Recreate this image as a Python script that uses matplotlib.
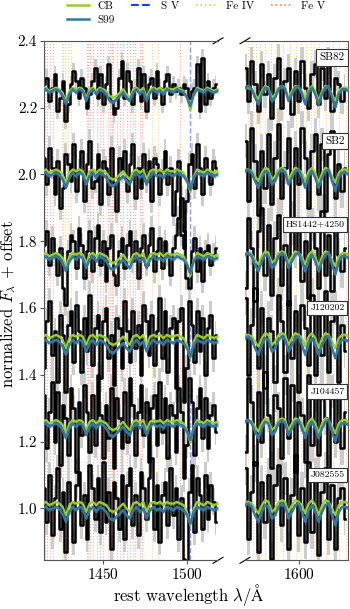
import numpy as np
import matplotlib.pyplot as plt
from matplotlib.lines import Line2D

plt.rcParams['font.family'] = 'serif'
plt.rcParams['font.serif'] = ['cmr10', 'DejaVu Serif']
plt.rcParams['mathtext.fontset'] = 'cm'
plt.rcParams['axes.unicode_minus'] = False
plt.rcParams['axes.formatter.use_mathtext'] = True

# object names and vertical offsets
names = ['SB82', 'SB2', 'HS1442+4250', 'J120202', 'J104457', 'J082555']
offsets = [2.25, 2.0, 1.75, 1.5, 1.25, 1.0]
label_sizes = [8, 8, 7, 7, 7, 7]

# binned spectra, residuals in units of 0.01 around each offset
wl_left = np.arange(1415, 1518.7, 1.6)   # 65 bins
wl_right = np.arange(1568, 1629, 2.0)    # 31 bins

res_left = {
    'SB82': [2, 4, -3, 1, 5, -6, -2, 3, -9, -4, 2, 6, 3, -2, 4, 1, -5, -1, 3, 7, -2, 5, -4, 2, 8, -3, -7, -5, 4, 9, -2, 6, 3, -4, 1, 7, -3, 5, -6, 2, 4, -2, 6, 1, -4, 3, 5, -1, 2, 0, 1, -1, 2, 1, -2, 0, 1, 8, -6, 10, -4, 3, -2, 1, 2],
    'SB2': [5, -3, 8, 2, -6, 4, -10, -4, 6, 3, -2, 9, -5, 1, 7, -8, 3, 10, -4, -2, 6, -9, 4, 2, -6, 8, -3, -11, 5, 1, 7, -5, 3, 9, -7, 2, -4, 6, -2, 4, -8, 5, 3, -6, 1, 7, -3, 2, -12, -5, 4, -18, -22, -8, 3, 6, -4, 9, 2, -6, 5, 1, -3, 4, 2],
    'HS1442+4250': [4, 8, -2, 6, 1, -5, 3, -9, -14, 2, 7, 5, -3, 9, 4, -6, 2, 8, -4, 6, 10, -2, 5, -7, 3, 7, -5, -8, 2, 6, -3, 4, 8, -1, 5, -6, 3, 7, -2, 4, 9, -4, 2, 6, -3, 5, 1, -5, 3, 7, 12, 18, 8, -6, -9, 2, 6, -4, 3, -7, 2, 4, -2, 1, 3],
    'J120202': [-8, 6, 12, -4, 3, -12, 8, 2, -15, 5, 9, -6, 11, 3, -9, 7, -3, 14, -7, 4, 8, -11, 6, 10, -5, 2, -13, 7, 4, -8, 12, 3, -6, 9, -2, 5, -10, 11, 6, -4, 8, -7, 3, 13, -5, 9, -9, 4, 7, -14, 6, 10, -18, -8, 12, 5, -6, 9, -3, 7, -10, 4, 8, -5, 2],
    'J104457': [9, -7, 4, 13, -5, 10, -12, 6, 2, -9, 11, 5, -14, 7, -3, 12, 4, -8, 9, -6, 15, 3, -10, 6, -4, 11, -13, 8, 2, -7, 10, -5, 14, 6, -9, 4, 12, -3, 7, -11, 5, 9, -6, 13, -2, 8, -10, 6, 3, -8, 11, 4, -16, -6, 14, 7, -9, 5, 11, -4, 8, -7, 3, 6, -2],
    'J082555': [6, -4, 10, -8, 3, 12, -6, 5, -13, 8, 2, -10, 7, 11, -5, 4, -9, 13, 6, -3, 9, -7, 14, -4, 5, -12, 8, 3, -6, 10, -9, 7, 12, -5, 4, -8, 11, 6, -3, 9, 15, -6, 7, -10, 4, 8, -5, 12, -2, 6, -9, 3, -15, -20, 5, 13, -7, 9, 4, -6, 10, -3, 7, 2, -4],
}
res_right = {
    'SB82': [7, -3, 9, 2, -6, 8, -1, 5, -8, 4, 10, -5, 3, 7, -7, 6, -3, 9, 1, -5, 5, 8, -4, 7, -2, 9, -6, 4, 2, -3, 1],
    'SB2': [10, -8, 14, 4, -12, 7, -4, 12, -9, 5, 15, -7, 2, 11, -13, 8, -3, 14, 5, -10, 7, 12, -6, 9, -11, 6, 13, -7, 3, -5, 2],
    'HS1442+4250': [-9, 12, 3, -13, 8, 15, -5, 10, -11, 6, 13, -8, 4, -14, 9, 2, 12, -7, 5, -12, 10, 3, -9, 14, -5, 7, -10, 11, 1, -4, 3],
    'J120202': [13, -10, 5, 16, -8, 10, -14, 7, 3, -12, 14, 6, -9, 12, -5, 9, -15, 11, 4, -7, 14, -10, 8, -4, 15, -9, 6, 10, -12, 5, -3],
    'J104457': [-8, 14, 7, -12, 10, -5, 16, 3, -13, 9, 5, -10, 14, -4, 12, -14, 7, 3, -11, 15, -6, 9, -9, 12, 2, -14, 10, -5, 8, -7, 4],
    'J082555': [12, -9, 5, 14, -13, 8, -4, 10, -15, 7, 13, -5, 9, -12, 4, 16, -8, 6, -10, 14, -7, 10, -14, 5, 12, -9, 7, -12, 3, 6, -3],
}
err_left = [0.025, 0.035, 0.035, 0.04, 0.04, 0.04]
err_right = [0.04, 0.05, 0.05, 0.05, 0.05, 0.05]

# model spectra (units of 0.01 around offset)
mwl_left = np.arange(1414, 1521, 2.0)    # 54 points
mwl_right = np.arange(1566, 1633, 2.0)   # 34 points
s99_left = [0, 0.5, -0.5, 0, 0.5, 0, -1.5, -4, -1, 0.5, -0.5, 0.5, 0, -3, -0.5, 0.5, -1, 0.5, 0, -1, -3, -3.5, -2.5, -1.5, -0.5, -2, -3, -0.5, 0.5, -1, 0, -3, -0.5, 0.5, -0.5, 0, -1, 0.5, 0, -0.5, 0.5, 0, -0.5, -2, -4.5, -1, 0.5, 0, -0.5, 0.5, 0, -0.5, 0, 0]
cb_left = [0.5, 1, 0, 0.5, 1, 0.5, -0.5, -3, 0, 1, 0.5, 1, 0.5, -2, 0.5, 1, 0, 1, 0.5, 0, -1.5, -2, -1.5, -0.5, 0.5, -1, -2, 0.5, 1, 0, 1, -2, 0.5, 1, 0.5, 1, 0, 1, 0.5, 0.5, 1, 0.5, 0, -2, -6, -1, 1, 0.5, 0, 1, 0.5, 0, 0.5, 0.5]
s99_right = [0, 1, 1.5, 0.5, -2, -4, -1, 1, 0.5, -3, -2, 0.5, 1.5, 0.5, -3, -1, 1, 1.5, -1, -4, -0.5, 1, -1, -4, -1, 1, 1.5, -2, -5, -1, 0.5, 0.5, 0, 0]
cb_right = [0.5, 1, 1, 0.5, -1, -2.5, 0, 1.5, 1, -2, -1, 1, 1.5, 1, -2, 0, 1.5, 1, 0, -2.5, 0.5, 1.5, 0, -3, 0, 1.5, 1, -1, -3, 0, 1, 1, 0.5, 0.5]
cb_shift = [0.0, 0.005, 0.005, 0.01, 0.005, 0.01]

# line lists
fe4_lines = [1425.4, 1426.4, 1427.4, 1429.3, 1430.8, 1479.0, 1482.9,
             1569.8, 1572.7, 1574.7, 1576.8, 1579.8, 1583.8, 1586.7, 1590.7, 1594.6,
             1598.6, 1601.6, 1604.6, 1607.5, 1609.5, 1612.5, 1616.5, 1620.4, 1624.4, 1628.4]
fe5_lines = [1415.5, 1416.8, 1418.5, 1420.1, 1440.3, 1441.3, 1442.3, 1444.2, 1446.3,
             1448.2, 1450.2, 1453.2, 1454.2, 1455.2, 1456.1, 1458.2, 1460.1, 1462.1,
             1464.1, 1466.1, 1468.0, 1469.0, 1472.0, 1473.0, 1495.8]
sv_line = 1501.8

fig = plt.figure(figsize=(3.5, 6.09), dpi=100)
ax1 = fig.add_axes([0.126, 0.080, 0.497, 0.853])
ax2 = fig.add_axes([0.700, 0.080, 0.294, 0.853])

c_cb = '#9acd32'
c_s99 = '#35789f'

for ax, wl, mwl, s99, cb, res, err in [
        (ax1, wl_left, mwl_left, s99_left, cb_left, res_left, err_left),
        (ax2, wl_right, mwl_right, s99_right, cb_right, res_right, err_right)]:
    for w in fe4_lines:
        ax.axvline(w, color='#ffb347', ls=':', lw=0.8, alpha=0.6, zorder=0)
    for w in fe5_lines:
        ax.axvline(w, color='#ff6347', ls=':', lw=0.8, alpha=0.5, zorder=0)
    ax.axvline(sv_line, color='#6f86ff', ls='--', lw=1.0, alpha=0.8, zorder=0)
    for i, name in enumerate(names):
        f = offsets[i] + 0.01 * np.array(res[name])
        ax.fill_between(wl, f - err[i], f + err[i], step='mid', color='#cccccc', lw=0, zorder=1)
        ax.step(wl, f, where='mid', color='k', lw=1.8, zorder=2)
        m_cb = offsets[i] + cb_shift[i] + 0.01 * np.array(cb)
        m_s = offsets[i] + 0.01 * np.array(s99)
        ax.fill_between(mwl, m_cb - 0.005, m_cb + 0.005, color=c_cb, alpha=0.5, lw=0, zorder=3)
        ax.plot(mwl, m_cb, color=c_cb, lw=1.5, zorder=3)
        ax.fill_between(mwl, m_s - 0.006, m_s + 0.006, color=c_s99, alpha=0.4, lw=0, zorder=4)
        ax.plot(mwl, m_s, color=c_s99, lw=1.8, zorder=4)
    ax.set_ylim(0.845, 2.4)
    for sp in ax.spines.values():
        sp.set_color('#555555')

ax1.set_xlim(1415, 1518.5)
ax2.set_xlim(1568, 1629.5)
ax1.spines['right'].set_visible(False)
ax2.spines['left'].set_visible(False)
ax1.set_xticks([1450, 1500])
ax2.set_xticks([1600])
ax1.set_yticks([1.0, 1.2, 1.4, 1.6, 1.8, 2.0, 2.2, 2.4])
ax1.set_yticklabels(['1.0', '1.2', '1.4', '1.6', '1.8', '2.0', '2.2', '2.4'])
ax2.set_yticks([])
for ax in (ax1, ax2):
    ax.tick_params(labelsize=11, length=3, pad=2, color='#555555')

for i, name in enumerate(names):
    ax2.text(1627.5, offsets[i] + 0.1, name, ha='right', va='center',
             fontsize=label_sizes[i], zorder=6,
             bbox=dict(boxstyle='square,pad=0.3', fc='white', ec='#333333', lw=0.8))

# broken axis marks
kw = dict(color='k', lw=0.8, clip_on=False)
dx1, dx2, dy = 5 / 174, 5 / 103, 3 / 519
ax1.plot([1 - dx1, 1 + dx1], [1 - dy, 1 + dy], transform=ax1.transAxes, **kw)
ax1.plot([1 - dx1, 1 + dx1], [-dy, dy], transform=ax1.transAxes, **kw)
ax2.plot([-dx2, dx2], [1 - dy, 1 + dy], transform=ax2.transAxes, **kw)
ax2.plot([-dx2, dx2], [-dy, dy], transform=ax2.transAxes, **kw)

fig.text(0.025, 0.5, r'normalized $F_\lambda$ + offset', rotation=90, ha='center', va='center', fontsize=12)
fig.text(0.54, 0.013, r'rest wavelength $\lambda/\mathrm{\AA}$', ha='center', va='baseline', fontsize=12)

handles = [Line2D([], [], color=c_cb, lw=1.8),
           Line2D([], [], color=c_s99, lw=1.8),
           Line2D([], [], color='#1a3cff', ls='--', lw=1.5),
           Line2D([], [], color='#ffc060', ls=':', lw=1.2),
           Line2D([], [], color='#ff8060', ls=':', lw=1.2)]
fig.legend(handles, ['CB', 'S99', 'S V', 'Fe IV', 'Fe V'], loc='upper center',
           bbox_to_anchor=(0.56, 1.015), ncol=4, frameon=False, fontsize=8,
           handlelength=2.0, handletextpad=0.7, columnspacing=1.5, labelspacing=0.4)

fig.savefig('out.png', dpi=100)
